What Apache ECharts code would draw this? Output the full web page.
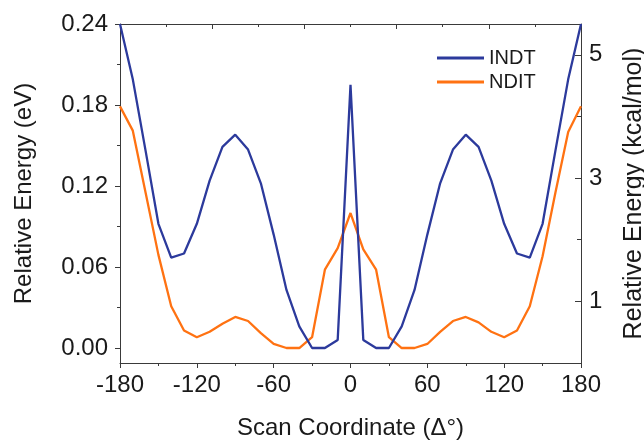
<!DOCTYPE html>
<html>
<head>
<meta charset="utf-8">
<script src="https://cdn.jsdelivr.net/npm/echarts@6/dist/echarts.min.js"></script>
<style>
html,body{margin:0;padding:0;background:#fff;}
#chart{width:644px;height:440px;}
</style>
</head>
<body>
<div id="chart"></div>
<script>
var scanAngles = [-180,-170,-160,-150,-140,-130,-120,-110,-100,-90,-80,-70,-60,-50,-40,-30,-20,-10,0,10,20,30,40,50,60,70,80,90,100,110,120,130,140,150,160,170,180];
var indtValues = [0.240,0.199,0.146,0.092,0.067,0.070,0.092,0.124,0.149,0.158,0.147,0.122,0.084,0.043,0.016,0.000,0.000,0.006,0.195,0.006,0.000,0.000,0.016,0.043,0.084,0.122,0.147,0.158,0.149,0.124,0.092,0.070,0.067,0.092,0.146,0.199,0.240];
var nditValues = [0.179,0.161,0.115,0.069,0.031,0.013,0.008,0.012,0.018,0.023,0.020,0.011,0.003,0.000,0.000,0.008,0.058,0.074,0.100,0.073,0.058,0.008,0.000,0.000,0.003,0.012,0.020,0.023,0.019,0.012,0.008,0.013,0.031,0.068,0.115,0.160,0.179];
var xTicks = [-180,-120,-60,0,60,120,180];
var leftTicks = [0,0.06,0.12,0.18,0.24];
var leftMinorTicks = [0.03,0.09,0.15,0.21];
var rightTicks = [1,3,5];
var rightMinorTicks = [2,4];

var FONT = 'Liberation Sans, Arial, sans-serif';
var TXT = '#1a1a1a';
var AX = '#3a3a3a';

function pairs(xs, ys){ return xs.map(function(x,i){ return [x, ys[i]]; }); }

var chart = echarts.init(document.getElementById('chart'), null, {renderer:'canvas'});
chart.setOption({
  animation:false,
  backgroundColor:'#fff',
  textStyle:{fontFamily:FONT},
  grid:{left:120, right:63, top:24, bottom:77, containLabel:false, outerBoundsMode:'none'},
  legend:{
    orient:'vertical', left:437, top:48, padding:0, itemWidth:47, itemHeight:3, itemGap:4, icon:'rect',
    textStyle:{fontSize:20, color:TXT, fontFamily:FONT},
    data:['INDT','NDIT']
  },
  xAxis:[{
    type:'value', position:'bottom', min:-180, max:180, interval:60,
    name:'Scan Coordinate (\u0394\u00b0)', nameLocation:'middle', nameGap:53,
    nameTextStyle:{fontSize:24, color:TXT, fontFamily:FONT},
    axisLine:{show:true, onZero:false, lineStyle:{color:AX, width:1}},
    axisTick:{show:true, inside:false, length:5, lineStyle:{color:AX}},
    minorTick:{show:true, splitNumber:2, length:3, lineStyle:{color:AX}},
    axisLabel:{fontSize:24, color:TXT, margin:10, fontFamily:FONT},
    splitLine:{show:false}
  },{
    type:'value', position:'top', min:0, max:10, interval:2,
    axisLine:{show:true, onZero:false, lineStyle:{color:AX, width:1}},
    axisTick:{show:true, inside:true, length:5, lineStyle:{color:AX}},
    minorTick:{show:true, splitNumber:2, length:3, lineStyle:{color:AX}},
    axisLabel:{show:false},
    splitLine:{show:false}
  }],
  yAxis:[{
    type:'value', position:'left', min:-0.0111, max:0.24,
    name:'Relative Energy (eV)', nameLocation:'middle', nameGap:84,
    nameTextStyle:{fontSize:24, color:TXT, fontFamily:FONT},
    axisLine:{show:true, onZero:false, lineStyle:{color:AX, width:1}},
    axisTick:{show:true, inside:false, length:5, customValues:leftTicks, lineStyle:{color:AX}},
    axisLabel:{fontSize:24, color:TXT, margin:12, customValues:leftTicks, fontFamily:FONT,
      formatter:function(v){ return v.toFixed(2); }},
    splitLine:{show:false}
  },{
    type:'value', position:'left', min:-0.0111, max:0.24,
    axisLine:{show:false, onZero:false},
    axisTick:{show:true, inside:false, length:3, customValues:leftMinorTicks, lineStyle:{color:AX}},
    axisLabel:{show:false},
    splitLine:{show:false}
  },{
    type:'value', position:'right', min:0, max:5.5,
    name:'Relative Energy (kcal/mol)', nameLocation:'middle', nameGap:41, nameRotate:90,
    nameTextStyle:{fontSize:25, color:TXT, fontFamily:FONT},
    axisLine:{show:true, onZero:false, lineStyle:{color:AX, width:1}},
    axisTick:{show:true, inside:true, length:6, customValues:rightTicks, lineStyle:{color:AX}},
    axisLabel:{fontSize:24, color:TXT, margin:8, customValues:rightTicks, fontFamily:FONT},
    splitLine:{show:false}
  },{
    type:'value', position:'right', min:0, max:5.5,
    axisLine:{show:false, onZero:false},
    axisTick:{show:true, inside:true, length:4, customValues:rightMinorTicks, lineStyle:{color:AX}},
    axisLabel:{show:false},
    splitLine:{show:false}
  }],
  series:[{
    name:'INDT', type:'line', xAxisIndex:0, yAxisIndex:0, symbol:'none',
    lineStyle:{color:'#2c3a9c', width:2.3}, itemStyle:{color:'#2c3a9c'},
    data:pairs(scanAngles, indtValues), z:3
  },{
    name:'NDIT', type:'line', xAxisIndex:0, yAxisIndex:0, symbol:'none',
    lineStyle:{color:'#ff7212', width:2.3}, itemStyle:{color:'#ff7212'},
    data:pairs(scanAngles, nditValues), z:2
  }]
});
</script>
</body>
</html>
